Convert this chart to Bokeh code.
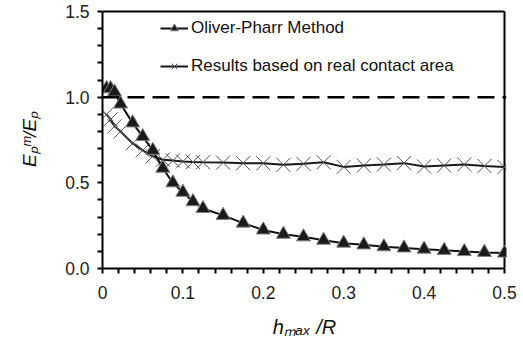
from bokeh.plotting import figure
from bokeh.models import (Range1d, FixedTicker, Legend, LegendItem, Span)
from bokeh.embed import file_html
from bokeh.resources import INLINE

# ---- data ----
op_x = [0.005, 0.01, 0.015, 0.0225, 0.0375, 0.05, 0.0625, 0.075, 0.0875, 0.1, 0.1125, 0.125,
        0.15, 0.175, 0.2, 0.225, 0.25, 0.275, 0.3, 0.325, 0.35, 0.375, 0.4, 0.425, 0.45, 0.475, 0.5]
op_y = [1.05, 1.05, 1.03, 0.96, 0.85, 0.77, 0.69, 0.585, 0.50, 0.445, 0.39, 0.35,
        0.31, 0.265, 0.225, 0.20, 0.185, 0.165, 0.148, 0.138, 0.127, 0.12, 0.113, 0.106, 0.099, 0.094, 0.09]

cr_x = [0.005, 0.01, 0.015, 0.0225, 0.0375, 0.05, 0.0625, 0.075, 0.0875, 0.1, 0.1125, 0.125,
        0.15, 0.175, 0.2, 0.225, 0.25, 0.275, 0.3, 0.325, 0.35, 0.375, 0.4, 0.425, 0.45, 0.475, 0.5]
cr_y = [0.90, 0.87, 0.83, 0.80, 0.73, 0.69, 0.655, 0.635, 0.63, 0.625, 0.622, 0.62,
        0.618, 0.615, 0.614, 0.605, 0.611, 0.62, 0.593, 0.601, 0.607, 0.615, 0.595, 0.601, 0.607, 0.598, 0.592]

reference_value = 1.0

x_tick_values = [0, 0.1, 0.2, 0.3, 0.4, 0.5]
x_tick_labels = ["0", "0.1", "0.2", "0.3", "0.4", "0.5"]
x_minor_values = [0.02, 0.04, 0.06, 0.08, 0.12, 0.14, 0.16, 0.18, 0.22, 0.24, 0.26, 0.28,
                  0.32, 0.34, 0.36, 0.38, 0.42, 0.44, 0.46, 0.48]
y_tick_values = [0, 0.5, 1.0, 1.5]
y_tick_labels = ["0.0", "0.5", "1.0", "1.5"]
y_minor_values = [0.1, 0.2, 0.3, 0.4, 0.6, 0.7, 0.8, 0.9, 1.1, 1.2, 1.3, 1.4]

legend_labels = ["Oliver-Pharr Method", "Results based on real contact area"]
x_title = "h\u2098\u2090\u2093 /R"      # h_max /R
y_title = "E\u209a\u1d50/E\u209a"        # E_p^m / E_p

FONT = "Liberation Sans"
X0, X1, Y0, Y1 = 0.0, 0.5, 0.0, 1.5
# a few pixels of room beyond the box so its top/right edges are drawn inside the frame
EDGE_PX = 2
FRAME_W, FRAME_H = 402, 257
X1e = X1 + EDGE_PX * (X1 - X0) / FRAME_W
Y1e = Y1 + EDGE_PX * (Y1 - Y0) / FRAME_H

p = figure(width=523, height=344, output_backend="svg", toolbar_location=None,
           x_range=Range1d(X0, X1e), y_range=Range1d(Y0, Y1e),
           min_border_left=102, min_border_right=19 - EDGE_PX, min_border_top=11 - EDGE_PX,
           min_border_bottom=76)
p.background_fill_color = "white"
p.border_fill_color = "white"
p.outline_line_color = None
p.xgrid.visible = False
p.ygrid.visible = False

for ax in (p.xaxis[0], p.yaxis[0]):
    ax.axis_line_color = "black"
    ax.axis_line_width = 2
    ax.major_tick_line_color = "black"
    ax.major_tick_line_width = 2
    ax.minor_tick_line_color = "black"
    ax.minor_tick_line_width = 2
    ax.major_tick_in = 0
    ax.major_tick_out = 5
    ax.minor_tick_in = 0
    ax.minor_tick_out = 5
    ax.major_label_text_font = FONT
    ax.major_label_text_font_size = "17.5px"
    ax.major_label_text_color = "#222222"
    ax.axis_label_text_font = FONT
    ax.axis_label_text_font_style = "italic"
    ax.axis_label_text_color = "#111111"

p.xaxis[0].bounds = (X0, X1)
p.xaxis[0].ticker = FixedTicker(ticks=x_tick_values, minor_ticks=x_minor_values)
p.xaxis[0].major_label_overrides = dict(zip(x_tick_values, x_tick_labels))
p.xaxis[0].major_label_standoff = 12
p.xaxis[0].axis_label = x_title
p.xaxis[0].axis_label_text_font_size = "20px"
p.xaxis[0].axis_label_standoff = 14
p.yaxis[0].bounds = (Y0, Y1)
p.yaxis[0].ticker = FixedTicker(ticks=y_tick_values, minor_ticks=y_minor_values)
p.yaxis[0].major_label_overrides = dict(zip(y_tick_values, y_tick_labels))
p.yaxis[0].major_label_standoff = 8
p.yaxis[0].axis_label = y_title
p.yaxis[0].axis_label_text_font_size = "19px"
p.yaxis[0].axis_label_standoff = 22

# top and right edges of the box around the plotting area (from the range limits)
p.line([X0, X1], [Y1, Y1], line_color="black", line_width=2)
p.line([X1, X1], [Y0, Y1], line_color="black", line_width=2)

p.add_layout(Span(location=reference_value, dimension="width", line_color="black",
                  line_width=2.5, line_dash="17 8"))

r_cr_line = p.line(cr_x, cr_y, line_color="#1a1a1a", line_width=2)
r_cr_pts = p.scatter(cr_x, cr_y, marker="x", size=20, line_color="#555555", line_width=1)
r_op_line = p.line(op_x, op_y, line_color="#111111", line_width=2)
r_op_pts = p.scatter(op_x, op_y, marker="triangle", size=14, fill_color="#1a1a1a",
                     line_color="#808080", line_width=1)

legend = Legend(items=[LegendItem(label=legend_labels[0], renderers=[r_op_line, r_op_pts]),
                       LegendItem(label=legend_labels[1], renderers=[r_cr_line, r_cr_pts])],
                location=(58, 192), padding=0, margin=0, spacing=18,
                glyph_width=28, glyph_height=20, label_height=20, label_standoff=3,
                border_line_color=None, background_fill_alpha=0,
                label_text_font=FONT, label_text_font_size="17px", label_text_color="#111111")
p.add_layout(legend)

open("out.html", "w").write(file_html(p, INLINE))
